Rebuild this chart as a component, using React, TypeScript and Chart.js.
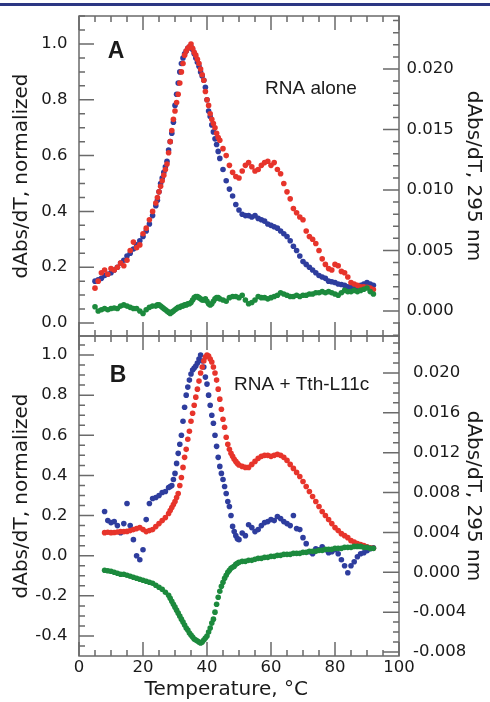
import React, { useEffect, useRef } from "react";
import { Chart, registerables } from "chart.js";

Chart.register(...registerables);

// ---------- Panel A: RNA alone ----------
const tempA = [
  5, 6, 7, 8, 9, 10, 11, 12, 13, 14,
  15, 16, 17, 18, 19, 20, 21, 22, 23, 24,
  24.5, 25, 25.5, 26, 26.5, 27, 27.5, 28, 28.5, 29,
  29.5, 30, 30.5, 31, 31.5, 32, 32.5, 33, 33.5, 34,
  34.5, 35, 35.5, 36, 36.5, 37, 37.5, 38, 38.5, 39,
  39.5, 40, 40.5, 41, 41.5, 42, 42.5, 43, 43.5, 44,
  45, 46, 47, 48, 49, 50, 51, 52, 53, 54,
  55, 56, 57, 58, 59, 60, 61, 62, 63, 64,
  65, 66, 67, 68, 69, 70, 71, 72, 73, 74,
  75, 76, 77, 78, 79, 80, 81, 82, 83, 84,
  85, 86, 87, 88, 89, 90, 91, 92,
];
const redA = [
  0.125, 0.15, 0.18, 0.19, 0.175, 0.195, 0.19, 0.2, 0.215, 0.205,
  0.225, 0.26, 0.29, 0.27, 0.28, 0.32, 0.34, 0.37, 0.4, 0.43,
  0.45, 0.47, 0.49, 0.51, 0.53, 0.55, 0.57, 0.61, 0.65, 0.69,
  0.73, 0.76, 0.79, 0.82, 0.86, 0.9, 0.93, 0.96, 0.975, 0.985,
  0.99, 1.0, 0.985, 0.97, 0.96, 0.945, 0.93, 0.91, 0.89, 0.87,
  0.83, 0.8, 0.78, 0.75, 0.73, 0.715, 0.7, 0.68, 0.665, 0.655,
  0.625, 0.6, 0.565, 0.54, 0.525, 0.52, 0.545, 0.565, 0.575, 0.56,
  0.545, 0.55, 0.565, 0.575, 0.58, 0.565, 0.575, 0.55, 0.535, 0.5,
  0.47, 0.445, 0.41, 0.395, 0.38, 0.37, 0.33, 0.31, 0.3, 0.285,
  0.26, 0.23, 0.21, 0.195, 0.19, 0.21, 0.205, 0.185, 0.18, 0.165,
  0.145, 0.14, 0.135, 0.13, 0.13, 0.128, 0.125, 0.12,
];
const blueA = [
  0.15, 0.155, 0.16, 0.17, 0.175, 0.18, 0.19, 0.2, 0.215, 0.225,
  0.24, 0.25, 0.265, 0.28, 0.295, 0.31, 0.33, 0.355, 0.385, 0.42,
  0.44, 0.47, 0.5, 0.52, 0.54, 0.56, 0.58, 0.62, 0.65, 0.68,
  0.72, 0.78, 0.82, 0.86, 0.9, 0.93, 0.95, 0.965, 0.975, 0.985,
  0.99, 0.99, 0.98, 0.965, 0.95, 0.935, 0.92, 0.9, 0.885, 0.87,
  0.845, 0.8, 0.76, 0.74, 0.71, 0.685, 0.66, 0.64, 0.615, 0.59,
  0.55, 0.51, 0.48, 0.455, 0.425, 0.405, 0.39, 0.385, 0.385, 0.38,
  0.385, 0.375, 0.37, 0.365, 0.355, 0.35, 0.345, 0.34, 0.33, 0.32,
  0.31, 0.295, 0.275, 0.26, 0.24, 0.22, 0.21, 0.2, 0.19, 0.18,
  0.17, 0.165, 0.16, 0.15, 0.148, 0.145, 0.14, 0.138, 0.135, 0.13,
  0.127, 0.125, 0.13, 0.135, 0.14, 0.145, 0.14, 0.135,
];
// green: absolute dAbs/dT at 295 nm (right axis)
const greenA = [
  0.00035, 0.0, 0.0001, 0.0002, 0.0001, 0.0002, 0.00025, 0.0002, 0.0004, 0.0005,
  0.0004, 0.0003, 0.0002, 0.0002, 0.0, -0.0002, 0.0001, 0.0003, 0.0004, 0.0004,
  0.0005, 0.0005, 0.0004, 0.0003, 0.0002, 0.0001, 0.0, -0.0001, -0.0002, -0.0001,
  0.0, 0.0001, 0.0002, 0.0003, 0.0003, 0.0004, 0.0004, 0.0005, 0.0005, 0.0006,
  0.0006, 0.0007, 0.0009, 0.0011, 0.0012, 0.0012, 0.0011, 0.001, 0.0009, 0.0009,
  0.001, 0.0008, 0.0006, 0.0005, 0.0006, 0.0008, 0.001, 0.0011, 0.0011, 0.001,
  0.0009, 0.0008, 0.0011, 0.0012, 0.0012, 0.0011, 0.0013, 0.0009, 0.0006, 0.0007,
  0.0009, 0.0012, 0.0011, 0.0011, 0.001, 0.0011, 0.0012, 0.0013, 0.0015, 0.0014,
  0.0013, 0.0012, 0.0012, 0.0013, 0.0012, 0.0013, 0.0013, 0.0014, 0.0014, 0.0015,
  0.0015, 0.0016, 0.0015, 0.0016, 0.0015, 0.0014, 0.0013, 0.0015, 0.0017, 0.0016,
  0.0016, 0.0017, 0.0016, 0.0017, 0.0018, 0.0019, 0.0016, 0.0014,
];

// ---------- Panel B: RNA + Tth-L11c ----------
const tempB = [
  8, 9, 10, 11, 12, 13, 14, 15, 16, 17,
  18, 19, 20, 21, 22, 23, 24, 25, 26, 27,
  28, 28.5, 29, 29.5, 30, 30.5, 31, 31.5, 32, 32.5,
  33, 33.5, 34, 34.5, 35, 35.5, 36, 36.5, 37, 37.5,
  38, 38.5, 39, 39.5, 40, 40.5, 41, 41.5, 42, 42.5,
  43, 43.5, 44, 44.5, 45, 45.5, 46, 46.5, 47, 47.5,
  48, 48.5, 49, 49.5, 50, 51, 52, 53, 54, 55,
  56, 57, 58, 59, 60, 61, 62, 63, 64, 65,
  66, 67, 68, 69, 70, 71, 72, 73, 74, 75,
  76, 77, 78, 79, 80, 81, 82, 83, 84, 85,
  86, 87, 88, 89, 90, 91, 92,
];
const redB = [
  0.115, 0.117, 0.115, 0.116, 0.118, 0.12, 0.12, 0.121, 0.125, 0.13,
  0.135, 0.14, 0.13, 0.12, 0.125, 0.13, 0.145, 0.16, 0.175, 0.19,
  0.21, 0.225, 0.24, 0.255, 0.27, 0.29, 0.31, 0.35, 0.39, 0.44,
  0.49, 0.53, 0.58, 0.62, 0.67, 0.71, 0.75, 0.79, 0.83, 0.87,
  0.91, 0.94, 0.97, 0.99, 1.0, 0.995, 0.98, 0.965, 0.94, 0.91,
  0.875, 0.83, 0.78, 0.73, 0.68, 0.64, 0.59, 0.555, 0.53, 0.51,
  0.495, 0.48, 0.47, 0.46, 0.452, 0.445, 0.44, 0.44, 0.455, 0.47,
  0.485, 0.495, 0.5, 0.5, 0.495, 0.5, 0.505, 0.5, 0.49, 0.475,
  0.455, 0.435, 0.415, 0.395, 0.37, 0.345, 0.32, 0.295, 0.27, 0.245,
  0.22, 0.2, 0.18, 0.16, 0.14, 0.125, 0.11, 0.1, 0.09, 0.075,
  0.068, 0.06, 0.055, 0.05, 0.045, 0.04, 0.037,
];
const blueB = [
  0.22, 0.175, 0.165, 0.17, 0.15, 0.115, 0.16, 0.26, 0.15, 0.08,
  0.0, -0.02, 0.03, 0.18, 0.26, 0.285, 0.29, 0.3, 0.315, 0.32,
  0.34, 0.345, 0.35, 0.38, 0.41, 0.46, 0.51, 0.555, 0.6, 0.67,
  0.74, 0.8, 0.84, 0.875, 0.905, 0.925, 0.935, 0.945, 0.96, 0.98,
  1.0, 0.97, 0.94, 0.89, 0.855, 0.8, 0.75, 0.7, 0.66, 0.6,
  0.545, 0.49, 0.445, 0.41, 0.38, 0.345, 0.31, 0.27, 0.245, 0.2,
  0.146, 0.12, 0.1, 0.085, 0.08, 0.113, 0.1, 0.154, 0.14, 0.12,
  0.13, 0.15, 0.165, 0.17, 0.18, 0.175, 0.195, 0.185, 0.17, 0.16,
  0.15, 0.2, 0.135, 0.13, 0.09, 0.06, 0.02, 0.01, 0.035, 0.03,
  0.045, 0.03, 0.015, 0.02, 0.03, 0.01, -0.02, -0.05, -0.085, -0.05,
  -0.03, -0.005, 0.01, 0.015, 0.025, 0.035, 0.04,
];
const greenB = [
  0.0002, 0.00015, 0.0001, 0.0, -0.0001, -0.0002, -0.0002, -0.0003, -0.0004, -0.0005,
  -0.0006, -0.0007, -0.0008, -0.0009, -0.001, -0.0011, -0.0013, -0.0015, -0.0017, -0.002,
  -0.0023, -0.0026, -0.0029, -0.0032, -0.0035, -0.0038, -0.0041, -0.0044, -0.0047, -0.005,
  -0.0053, -0.0056, -0.0058, -0.0061, -0.0063, -0.0065, -0.0067, -0.0068, -0.0069, -0.007,
  -0.0071, -0.007, -0.0068, -0.0066, -0.0064, -0.006, -0.0056, -0.0051, -0.0047, -0.004,
  -0.0032, -0.0025, -0.0019, -0.0014, -0.001, -0.0006, -0.0003, 0.0, 0.0002, 0.0004,
  0.0005, 0.0006, 0.0008, 0.0009, 0.001, 0.0011, 0.0011, 0.0012, 0.0012, 0.0013,
  0.0014, 0.0014, 0.0015, 0.0015, 0.0016, 0.0016, 0.0017, 0.0017, 0.0018, 0.0018,
  0.0018, 0.0019, 0.0019, 0.0019, 0.002, 0.002, 0.0021, 0.0021, 0.0021, 0.0022,
  0.0022, 0.0023, 0.0023, 0.0023, 0.0024, 0.0024, 0.0024, 0.0025, 0.0025, 0.0025,
  0.0026, 0.0026, 0.0026, 0.0025, 0.0025, 0.0024, 0.0024,
];

// ---------- Tick labels ----------
const xTicks = [0, 20, 40, 60, 80, 100];
const leftTicksA = [0, 0.2, 0.4, 0.6, 0.8, 1.0];
const rightTicksA = [0, 0.005, 0.01, 0.015, 0.02];
const leftTicksB = [-0.4, -0.2, 0, 0.2, 0.4, 0.6, 0.8, 1.0];
const rightTicksB = [-0.008, -0.004, 0, 0.004, 0.008, 0.012, 0.016, 0.02];

const xTitle = "Temperature, °C";
const leftTitle = "dAbs/dT, normalized";
const rightTitle = "dAbs/dT, 295 nm";

// ---------- Styles ----------
const RED = "#e7342b";
const BLUE = "#2e3d9e";
const GREEN = "#1c8a3d";
const TEXT = "#1a1a1a";
const AXIS = "#6a6a6a";
const TICK_FONT = { family: "DejaVu Sans", size: 16.5 };
const TITLE_FONT = { family: "DejaVu Sans", size: 20 };

function ticksBetween(min: number, max: number, step: number): number[] {
  const out: number[] = [];
  const s = Math.ceil(min / step - 1e-9);
  const e = Math.floor(max / step + 1e-9);
  for (let i = s; i <= e; i++) out.push(i * step);
  return out;
}
function isMult(v: number, m: number) {
  const r = v / m;
  return Math.abs(r - Math.round(r)) < 1e-6;
}

const frameTicks = {
  id: "frameTicks",
  afterDatasetsDraw(chart: any, _args: any, opts: any) {
    const { ctx, chartArea } = chart;
    const { left, right, top, bottom } = chartArea;
    const sx = chart.scales.x;
    const yl = chart.scales.yL;
    const yr = chart.scales.yR;
    ctx.save();
    ctx.strokeStyle = AXIS;
    ctx.lineWidth = 1.5;
    ctx.beginPath();
    for (const v of ticksBetween(sx.min, sx.max, opts.xMinor)) {
      const x = sx.getPixelForValue(v);
      const len = isMult(v, opts.xMajor) ? 14 : 6;
      ctx.moveTo(x, top);
      ctx.lineTo(x, top + len);
      ctx.moveTo(x, bottom);
      ctx.lineTo(x, bottom - len);
    }
    for (const v of ticksBetween(yl.min, yl.max, opts.lMinor)) {
      const y = yl.getPixelForValue(v);
      const len = isMult(v, opts.lMajor) ? 15 : 6;
      ctx.moveTo(left, y);
      ctx.lineTo(left + len, y);
    }
    for (const v of ticksBetween(yr.min, yr.max, opts.rMinor)) {
      const y = yr.getPixelForValue(v);
      const len = isMult(v, opts.rMajor) ? 16 : 6;
      ctx.moveTo(right, y);
      ctx.lineTo(right - len, y);
    }
    ctx.stroke();
    ctx.strokeRect(left, top, right - left, bottom - top);
    ctx.fillStyle = TEXT;
    ctx.textBaseline = "alphabetic";
    for (const l of opts.labels) {
      ctx.font = l.font;
      ctx.textAlign = l.align;
      ctx.fillText(l.text, l.x, l.y);
    }
    ctx.restore();
  },
};

function pts(xs: number[], ys: number[]) {
  return xs.map((x, i) => ({ x, y: ys[i] }));
}

interface PanelSpec {
  temp: number[];
  red: number[];
  blue: number[];
  green: number[];
  lTicks: number[];
  rTicks: number[];
  lMin: number;
  lMax: number;
  rMin: number;
  rMax: number;
  lDigits: number;
  rDigits: number;
  rPad: number;
  padTop: number;
  padBottom: number;
  xHeight: number;
  showX: boolean;
  lMajor: number;
  rMajor: number;
  labels: any[];
}

function makeConfig(p: PanelSpec): any {
  const ds = (data: any, color: string, axis: string, order: number) => ({
    data,
    yAxisID: axis,
    backgroundColor: color,
    borderColor: color,
    borderWidth: 0,
    pointRadius: 2.8,
    pointHoverRadius: 2.8,
    showLine: false,
    order,
  });
  return {
    type: "scatter",
    data: {
      datasets: [
        ds(pts(p.temp, p.blue), BLUE, "yL", 2),
        ds(pts(p.temp, p.red), RED, "yL", 1),
        ds(pts(p.temp, p.green), GREEN, "yR", 0),
      ],
    },
    options: {
      animation: false,
      responsive: false,
      events: [],
      layout: { padding: { top: p.padTop, bottom: p.padBottom, left: 0, right: 0 } },
      plugins: {
        legend: { display: false },
        tooltip: { enabled: false },
        frameTicks: {
          xMinor: 5,
          xMajor: 20,
          lMinor: 0.05,
          lMajor: p.lMajor,
          rMinor: 0.001,
          rMajor: p.rMajor,
          labels: p.labels,
        },
      },
      scales: {
        x: {
          type: "linear",
          position: "bottom",
          min: 0,
          max: 100,
          grid: { display: false, drawTicks: false },
          border: { display: false },
          ticks: {
            display: p.showX,
            font: TICK_FONT,
            color: TEXT,
            padding: 2,
            maxRotation: 0,
            autoSkip: false,
            callback: (v: number) => String(v),
          },
          afterBuildTicks: (s: any) => {
            s.ticks = xTicks.map((v) => ({ value: v }));
          },
          title: {
            display: p.showX,
            text: xTitle + "    ",
            font: TITLE_FONT,
            color: TEXT,
            padding: { top: 0, bottom: 0 },
          },
          afterFit: (s: any) => {
            s.height = p.xHeight;
            s.paddingLeft = 0;
            s.paddingRight = 0;
          },
        },
        yL: {
          type: "linear",
          position: "left",
          min: p.lMin,
          max: p.lMax,
          grid: { display: false, drawTicks: false },
          border: { display: false },
          ticks: {
            font: TICK_FONT,
            color: TEXT,
            padding: 11.5,
            autoSkip: false,
            callback: (v: number) => v.toFixed(p.lDigits),
          },
          afterBuildTicks: (s: any) => {
            s.ticks = p.lTicks.map((v) => ({ value: v }));
          },
          title: {
            display: true,
            text: leftTitle,
            font: TITLE_FONT,
            color: TEXT,
            padding: { top: 10, bottom: 0 },
          },
          afterFit: (s: any) => {
            s.width = 79;
            s.paddingTop = 0;
            s.paddingBottom = 0;
          },
        },
        yR: {
          type: "linear",
          position: "right",
          min: p.rMin,
          max: p.rMax,
          grid: { display: false, drawTicks: false },
          border: { display: false },
          ticks: {
            font: TICK_FONT,
            color: TEXT,
            padding: p.rPad,
            autoSkip: false,
            callback: (v: number) => v.toFixed(p.rDigits),
          },
          afterBuildTicks: (s: any) => {
            s.ticks = p.rTicks.map((v) => ({ value: v }));
          },
          title: {
            display: true,
            text: rightTitle,
            font: TITLE_FONT,
            color: TEXT,
            padding: { top: 5, bottom: 0 },
          },
          afterFit: (s: any) => {
            s.width = 91;
            s.paddingTop = 0;
            s.paddingBottom = 0;
          },
        },
      },
    },
    plugins: [frameTicks],
  };
}

const specA: PanelSpec = {
  temp: tempA,
  red: redA,
  blue: blueA,
  green: greenA,
  lTicks: leftTicksA,
  rTicks: rightTicksA,
  lMin: -0.0466,
  lMax: 1.1004,
  rMin: -0.00207,
  rMax: 0.02438,
  lDigits: 1,
  rDigits: 3,
  rPad: 7.5,
  padTop: 16,
  padBottom: 4,
  xHeight: 0,
  showX: false,
  lMajor: 0.2,
  rMajor: 0.005,
  labels: [
    { text: "A", x: 116, y: 58, font: 'bold 23px "Liberation Sans"', align: "center" },
    { text: "RNA alone", x: 265, y: 94, font: '19px "Liberation Sans"', align: "left" },
  ],
};

const specB: PanelSpec = {
  temp: tempB,
  red: redB,
  blue: blueB,
  green: greenB,
  lTicks: leftTicksB,
  rTicks: rightTicksB,
  lMin: -0.4997,
  lMax: 1.0947,
  rMin: -0.0084,
  rMax: 0.02371,
  lDigits: 1,
  rDigits: 3,
  rPad: 14,
  padTop: 6,
  padBottom: 0,
  xHeight: 46,
  showX: true,
  lMajor: 0.2,
  rMajor: 0.004,
  labels: [
    { text: "B", x: 118, y: 51.5, font: 'bold 23px "Liberation Sans"', align: "center" },
    { text: "RNA + Tth-L11c", x: 234, y: 59.5, font: '19px "Liberation Sans"', align: "left" },
  ],
};

function Panel({ spec, top, height }: { spec: PanelSpec; top: number; height: number }) {
  const ref = useRef<HTMLCanvasElement>(null);
  useEffect(() => {
    if (!ref.current) return;
    const chart = new Chart(ref.current, makeConfig(spec));
    return () => chart.destroy();
  }, [spec]);
  return (
    <canvas
      ref={ref}
      width={490}
      height={height}
      style={{ position: "absolute", left: 0, top, width: 490, height, display: "block" }}
    />
  );
}

export default function App() {
  return (
    <div
      style={{
        position: "fixed",
        left: 0,
        top: 0,
        width: 490,
        height: 702,
        background: "#ffffff",
        overflow: "hidden",
      }}
    >
      <div
        style={{
          position: "absolute",
          left: 0,
          top: 3,
          width: 490,
          height: 3,
          background: "#2c3783",
        }}
      />
      <Panel spec={specA} top={0} height={340} />
      <Panel spec={specB} top={330} height={372} />
    </div>
  );
}
